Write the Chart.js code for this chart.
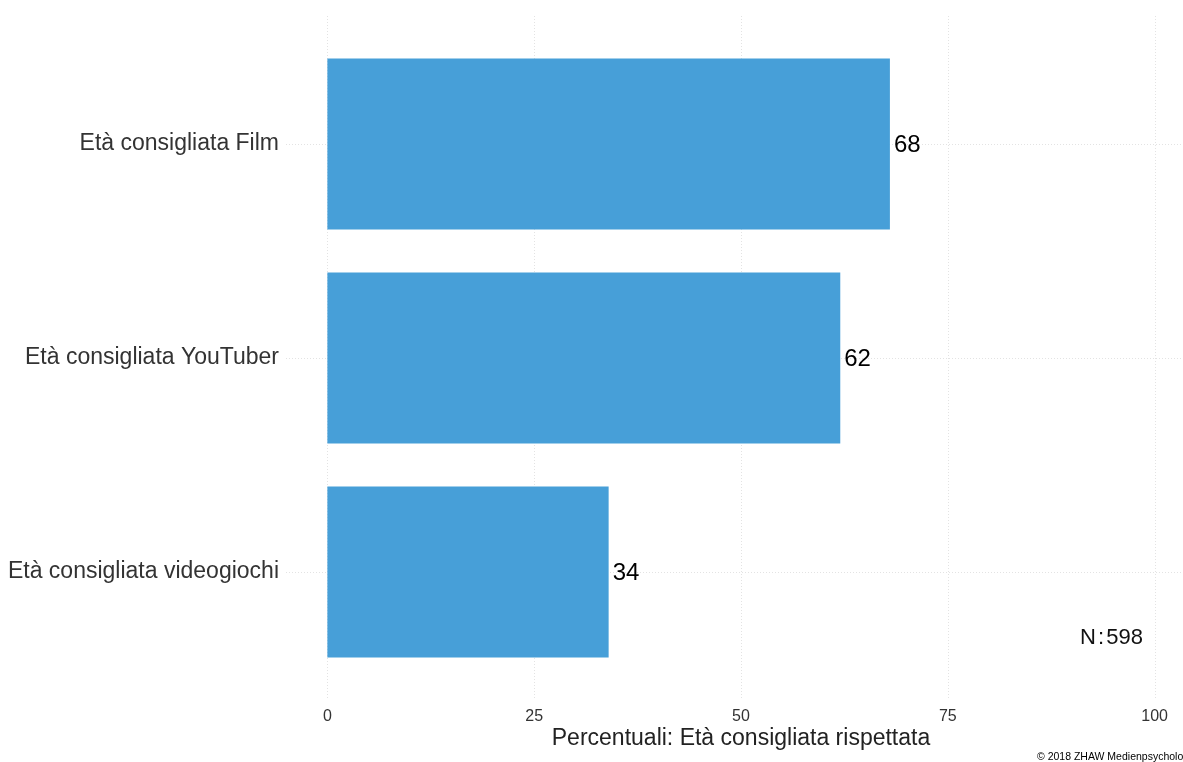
<!DOCTYPE html>
<html lang="it">
<head>
  <meta charset="UTF-8" />
  <title>Età consigliata rispettata</title>
  <script src="https://cdn.jsdelivr.net/npm/chart.js"></script>
  <style>
    html, body { margin: 0; padding: 0; background: #fff; overflow: hidden; }
    #wrap { width: 1210px; height: 762px; }
  </style>
</head>
<body>
  <div id="wrap"><canvas id="chart" width="1210" height="762"></canvas></div>

  <script>
    // dati
    const categorie = ["Età consigliata Film", "Età consigliata YouTuber", "Età consigliata videogiochi"];
    const percentuali = [68, 62, 34];
    const tickValori = [0, 25, 50, 75, 100];
    const titoloX = "Percentuali: Età consigliata rispettata";
    const nota = "N : 598";
    const copyright = "© 2018 ZHAW Medienpsychologie";

    const FONT = "'Liberation Sans', Arial, sans-serif";

    // griglia punteggiata (estesa come in ggplot) + etichette
    const griglia = {
      id: "griglia",
      beforeDatasetsDraw(chart) {
        const { ctx, chartArea, scales } = chart;
        const extra = 21;
        ctx.save();
        ctx.strokeStyle = "#e3e3e3";
        ctx.lineWidth = 1;
        ctx.setLineDash([1, 2]);
        tickValori.forEach(v => {
          const x = Math.round(scales.x.getPixelForValue(v)) + 0.5;
          ctx.beginPath();
          ctx.moveTo(x, chartArea.top - extra);
          ctx.lineTo(x, chartArea.bottom + extra);
          ctx.stroke();
        });
        categorie.forEach((c, i) => {
          const y = Math.round(scales.y.getPixelForValue(i)) + 0.5;
          ctx.beginPath();
          ctx.moveTo(chartArea.left, y);
          ctx.lineTo(chartArea.right, y);
          ctx.stroke();
        });
        ctx.restore();
      },
      afterDatasetsDraw(chart) {
        const { ctx } = chart;
        ctx.save();
        ctx.fillStyle = "#000";
        ctx.font = "24px " + FONT;
        ctx.textAlign = "left";
        ctx.textBaseline = "middle";
        chart.getDatasetMeta(0).data.forEach((bar, i) => {
          ctx.fillText(String(percentuali[i]), bar.x + 4, bar.y + 1);
        });
        ctx.fillStyle = "#111";
        ctx.font = "22px " + FONT;
        ctx.textAlign = "right";
        ctx.wordSpacing = "-4px";
        ctx.fillText(nota, 1143, 638);
        ctx.wordSpacing = "0px";
        ctx.font = "10.5px " + FONT;
        ctx.textAlign = "left";
        ctx.fillStyle = "#000";
        ctx.fillText(copyright, 1037, 757);
        ctx.restore();
      }
    };

    new Chart(document.getElementById("chart"), {
      type: "bar",
      data: {
        labels: categorie,
        datasets: [{
          data: percentuali,
          backgroundColor: "#479fd8",
          borderWidth: 0,
          barPercentage: 0.8,
          categoryPercentage: 1
        }]
      },
      options: {
        indexAxis: "y",
        responsive: false,
        animation: false,
        layout: { padding: { top: 37, right: 14, bottom: 10, left: 0 } },
        plugins: {
          legend: { display: false },
          tooltip: { enabled: false }
        },
        scales: {
          x: {
            min: -5,
            max: 105,
            afterBuildTicks: s => { s.ticks = tickValori.map(v => ({ value: v })); },
            afterFit: s => { s.height = 73; },
            grid: { display: false, drawTicks: false },
            border: { display: false },
            ticks: { color: "#333", font: { family: FONT, size: 16 }, padding: 28, maxRotation: 0 },
            title: {
              display: true,
              text: titoloX,
              color: "#222",
              font: { family: FONT, size: 23 },
              padding: { top: 0, bottom: 0 }
            }
          },
          y: {
            afterFit: s => { s.width = 286; },
            grid: { display: false, drawTicks: false },
            border: { display: false },
            ticks: { color: "#333", font: { family: FONT, size: 23 }, padding: 7 }
          }
        }
      },
      plugins: [griglia]
    });
  </script>
</body>
</html>
